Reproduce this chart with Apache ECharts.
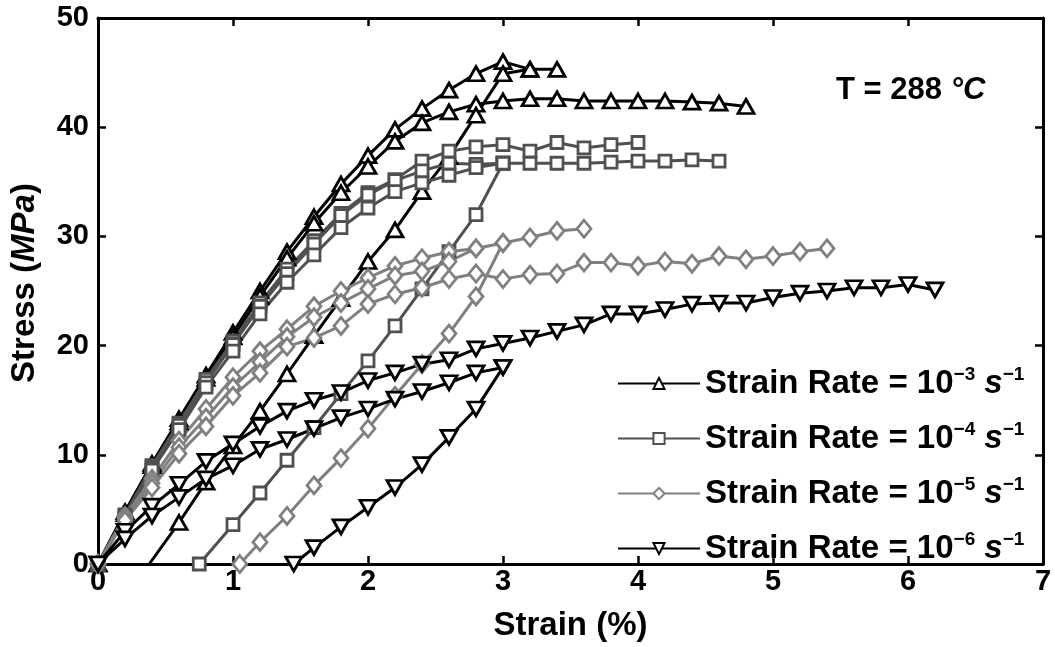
<!DOCTYPE html>
<html><head><meta charset="utf-8">
<script src="https://cdn.jsdelivr.net/npm/echarts@6/dist/echarts.min.js"></script>
<style>html,body{margin:0;padding:0;background:#fff}#c{width:1055px;height:647px}</style>
</head><body><div id="c"></div>
<script>
// ---- data (strain %, stress MPa) ----
const xTicks = [0,1,2,3,4,5,6,7];
const yTicks = [0,10,20,30,40,50];
const rateNames = ['Strain Rate = 10^-3','Strain Rate = 10^-4','Strain Rate = 10^-5','Strain Rate = 10^-6'];
const rateExps = ['\u22123','\u22124','\u22125','\u22126'];

const tri_A = [[0,0],[0.2,4.8],[0.4,9.2],[0.6,13.3],[0.8,17.3],[1,21.2],[1.2,25],[1.4,28.6],[1.6,31.8],[1.8,34.8],[2,37.4],[2.2,39.8],[2.4,41.7],[2.6,43.4],[2.8,44.9],[3,46],[3.2,45.3],[3.4,45.3]];
const tri_B = [[0,0],[0.2,4.6],[0.4,9],[0.6,13],[0.8,17],[1,20.8],[1.2,24.5],[1.4,28],[1.6,31.2],[1.8,34],[2,36.4],[2.2,38.7],[2.4,40.4],[2.6,41.4],[2.8,42.1],[3,42.4],[3.2,42.6],[3.4,42.6],[3.6,42.4],[3.8,42.4],[4,42.4],[4.2,42.4],[4.4,42.3],[4.6,42.2],[4.8,41.9]];
const tri_C = [[0.38,0],[0.6,3.8],[0.8,7.5],[1,10.8],[1.2,14],[1.4,17.4],[1.6,20.9],[1.8,24.3],[2,27.7],[2.2,30.6],[2.4,34.1],[2.6,37.3],[2.8,41.1],[3,44.9],[3.2,45.3]];

const sq_A = [[0,0],[0.2,4.5],[0.4,9],[0.6,12.9],[0.8,16.9],[1,20.4],[1.2,23.9],[1.4,27],[1.6,29.6],[1.8,32.1],[2,34],[2.2,35.2],[2.4,36.9],[2.6,37.8],[2.8,38.2],[3,38.4],[3.2,37.8],[3.4,38.6],[3.6,38.1],[3.8,38.4],[4,38.6]];
const sq_M = [[0,0],[0.2,4.4],[0.4,8.8],[0.6,12.7],[0.8,16.6],[1,20.1],[1.2,23.6],[1.4,26.6],[1.6,29.3],[1.8,31.9],[2,33.8],[2.2,35.1],[2.4,36],[2.6,36.7],[2.8,36.6],[3,36.7]];
const sq_B = [[0,0],[0.2,4.2],[0.4,8.6],[0.6,12.3],[0.8,16.2],[1,19.5],[1.2,22.9],[1.4,25.8],[1.6,28.3],[1.8,30.8],[2,32.6],[2.2,34.1],[2.4,34.9],[2.6,35.6],[2.8,36.3],[3,36.7],[3.2,36.7],[3.4,36.7],[3.6,36.7],[3.8,36.8],[4,36.9],[4.2,36.9],[4.4,37],[4.6,36.9]];
const sq_C = [[0.75,0],[1,3.6],[1.2,6.5],[1.4,9.5],[1.6,12.5],[1.8,15.6],[2,18.6],[2.2,21.8],[2.4,25.2],[2.6,28.6],[2.8,32],[3,36.7]];

const dia_A = [[0,0],[0.2,4.4],[0.4,7.8],[0.6,11.3],[0.8,14.2],[1,17.1],[1.2,19.5],[1.4,21.5],[1.6,23.6],[1.8,25],[2,26.2],[2.2,27.3],[2.4,28],[2.6,28.6],[2.8,28.9],[3,29.4],[3.2,29.9],[3.4,30.5],[3.6,30.7]];
const dia_M = [[0,0],[0.2,4.2],[0.4,7.4],[0.6,10.7],[0.8,13.4],[1,16.2],[1.2,18.5],[1.4,20.8],[1.6,22.6],[1.8,23.9],[2,25.2],[2.2,26.4],[2.4,26.8],[2.6,27.7],[2.8,28.9]];
const dia_B = [[0,0],[0.2,4],[0.4,7],[0.6,10.1],[0.8,12.6],[1,15.4],[1.2,17.5],[1.4,19.9],[1.6,20.7],[1.8,21.8],[2,23.8],[2.2,24.7],[2.4,25.3],[2.6,26.1],[2.8,26.6],[3,26.1],[3.2,26.5],[3.4,26.6],[3.6,27.6],[3.8,27.6],[4,27.3],[4.2,27.7],[4.4,27.5],[4.6,28.2],[4.8,27.9],[5,28.2],[5.2,28.6],[5.4,28.9]];
const dia_C = [[1.05,0],[1.2,2],[1.4,4.4],[1.6,7.2],[1.8,9.7],[2,12.4],[2.2,15.4],[2.4,18.3],[2.6,21.1],[2.8,24.5],[3,29.4]];

const dt_U = [[0,0],[0.2,3],[0.4,5.3],[0.6,7.3],[0.8,9.4],[1,11],[1.2,12.6],[1.4,14],[1.6,15],[1.8,15.7],[2,16.8],[2.2,17.5],[2.4,18.3],[2.6,18.7],[2.8,19.7],[3,20.2],[3.2,20.7],[3.4,21.3],[3.6,21.9],[3.8,22.9],[4,22.9],[4.2,23.3],[4.4,23.8],[4.6,23.9],[4.8,23.9],[5,24.4],[5.2,24.8],[5.4,25],[5.6,25.3],[5.8,25.3],[6,25.6],[6.2,25.1]];
const dt_L = [[0,0],[0.2,2.3],[0.4,4.4],[0.6,6.1],[0.8,7.8],[1,9],[1.2,10.5],[1.4,11.4],[1.6,12.4],[1.8,13.4],[2,14.2],[2.2,15.1],[2.4,15.8],[2.6,16.6],[2.8,17.5],[3,18]];
const dt_C = [[1.45,0],[1.6,1.5],[1.8,3.4],[2,5.2],[2.2,7],[2.4,9.1],[2.6,11.6],[2.8,14.2],[3,18]];

// ---- styles ----
const FONT = 'Liberation Sans, Arial, sans-serif';
const colors = ['#000000','#505050','#808080','#000000'];
const symbols = ['triangle','rect','diamond','triangle'];
const symSizes = [[16,14],[12,12],[14,17],[16,14]];
const symRot = [0,0,0,180];
const groups = [[tri_A,tri_B,tri_C],[sq_A,sq_M,sq_B,sq_C],[dia_A,dia_M,dia_B,dia_C],[dt_U,dt_L,dt_C]];

const series = [];
groups.forEach((curves, g) => {
  curves.forEach((curve, k) => {
    const data = curve.map((p, i) => {
      // the reload curve of the fastest rate has no marker at its start
      if (g === 0 && k === 2 && i === 0) return {value: p, symbol: 'none'};
      return p;
    });
    series.push({
      name: rateNames[g], type: 'line', data: data,
      symbol: symbols[g], symbolSize: symSizes[g], symbolRotate: symRot[g],
      showAllSymbol: true, clip: false,
      lineStyle: {color: colors[g], width: 3},
      itemStyle: {color: '#ffffff', borderColor: colors[g], borderWidth: 2.8},
      emphasis: {disabled: true}, animation: false
    });
  });
});

const axisCommon = {
  axisLine: {show: true, onZero: false, lineStyle: {color: '#000', width: 3}},
  axisTick: {show: true, inside: true, length: 8, lineStyle: {color: '#000', width: 2.5}},
  splitLine: {show: false}
};

const option = {
  animation: false,
  backgroundColor: '#ffffff',
  grid: {left: 97, right: 12, top: 18, bottom: 82},
  title: {
    text: '{a|T = 288 }{b|\u00B0C}',
    left: 831, top: 70,
    textStyle: {rich: {
      a: {fontFamily: FONT, fontWeight: 'bold', fontSize: 31, color: '#000'},
      b: {fontFamily: FONT, fontWeight: 'bold', fontStyle: 'italic', fontSize: 31, color: '#000'}
    }}
  },
  legend: {
    orient: 'vertical', left: 612, top: 360,
    itemWidth: 82, itemHeight: 14, itemGap: 18,
    data: rateNames,
    formatter: function (name) {
      const i = rateNames.indexOf(name);
      return '{t|Strain Rate = 10}{sup|' + rateExps[i] + '}{t| }{s|s}{sup|\u22121}';
    },
    textStyle: {
      rich: {
        t: {fontFamily: FONT, fontWeight: 'bold', fontSize: 33, color: '#000', lineHeight: 38},
        s: {fontFamily: FONT, fontWeight: 'bold', fontStyle: 'italic', fontSize: 33, color: '#000', lineHeight: 38},
        sup: {fontFamily: FONT, fontWeight: 'bold', fontSize: 19, color: '#000', padding: [0, 0, 18, 0], lineHeight: 22}
      }
    }
  },
  xAxis: [
    Object.assign({}, axisCommon, {
      type: 'value', min: 0, max: 7, interval: 1, position: 'bottom',
      name: 'Strain (%)', nameLocation: 'middle', nameGap: 45,
      nameTextStyle: {fontFamily: FONT, fontWeight: 'bold', fontSize: 33, color: '#000'},
      axisLabel: {fontFamily: FONT, fontWeight: 'bold', fontSize: 29, color: '#000', margin: 3,
        formatter: function (v) { return xTicks.indexOf(v) >= 0 ? String(v) : ''; }}
    }),
    Object.assign({}, axisCommon, {
      type: 'value', min: 0, max: 7, interval: 1, position: 'top', axisLabel: {show: false}
    })
  ],
  yAxis: [
    Object.assign({}, axisCommon, {
      type: 'value', min: 0, max: 50, interval: 10, position: 'left',
      name: '{a|Stress (}{b|MPa}{a|)}', nameLocation: 'middle', nameGap: 57, nameRotate: 90,
      nameTextStyle: {padding: [0, 0, 0, 16], rich: {
        a: {fontFamily: FONT, fontWeight: 'bold', fontSize: 33, color: '#000'},
        b: {fontFamily: FONT, fontWeight: 'bold', fontStyle: 'italic', fontSize: 33, color: '#000'}
      }},
      axisLabel: {fontFamily: FONT, fontWeight: 'bold', fontSize: 29, color: '#000', margin: 9,
        formatter: function (v) { return yTicks.indexOf(v) >= 0 ? String(v) : ''; }}
    }),
    Object.assign({}, axisCommon, {
      type: 'value', min: 0, max: 50, interval: 10, position: 'right', axisLabel: {show: false}
    })
  ],
  series: series
};

const chart = echarts.init(document.getElementById('c'), null, {renderer: 'canvas'});
chart.setOption(option);
</script></body></html>
